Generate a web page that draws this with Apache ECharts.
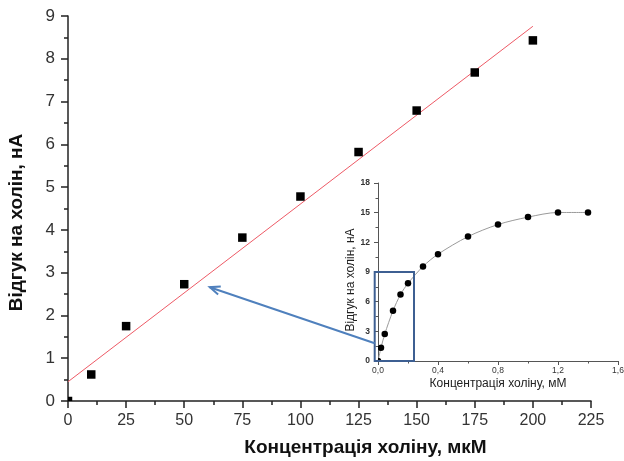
<!DOCTYPE html>
<html>
<head>
<meta charset="utf-8">
<script src="https://cdn.jsdelivr.net/npm/echarts@6/dist/echarts.min.js"></script>
<style>
  html, body { margin: 0; padding: 0; background: #fff; }
  #chart { width: 624px; height: 461px; }
</style>
</head>
<body>
<div id="chart"></div>
<script>
// Main plot: biosensor response vs choline concentration, µM
const mainConc = [0, 10, 25, 50, 75, 100, 125, 150, 175, 200];
const mainResp = [0, 0.62, 1.75, 2.73, 3.82, 4.78, 5.82, 6.79, 7.68, 8.43];

// Linear fit line, end points
const fitConc = [0, 200];
const fitResp = [0.45, 8.76];

// Inset: full calibration curve, mM
const insetConc = [0, 0.02, 0.045, 0.1, 0.15, 0.2, 0.3, 0.4, 0.6, 0.8, 1.0, 1.2, 1.4];
const insetResp = [0, 1.33, 2.72, 5.08, 6.72, 7.85, 9.56, 10.8, 12.58, 13.8, 14.55, 15.02, 15.02];

// Linear region framed in the inset (inset coordinates)
const boxConc = [-0.022, 0.24];
const boxResp = [0, 9];

// Callout arrow: starts on the frame (inset coords), ends in the main plot (main coords)
const arrowStart = [-0.022, 1.79];
const arrowEnd = [61, 2.66];

// Tick values: [min, max, step]
const mainXTicks = [0, 225, 25];
const mainYTicks = [0, 9, 1];
const insetXTicks = [0, 1.6, 0.4];
const insetYTicks = [0, 18, 3];

const FONT = 'Liberation Sans, Arial, sans-serif';

const zip = (a, b) => a.map((v, i) => [v, b[i]]);

function markRenderer(kind, size) {
  return function (params, api) {
    const p = api.coord([api.value(0), api.value(1)]);
    if (kind === 'square') {
      return {
        type: 'rect',
        shape: { x: p[0] - size / 2, y: p[1] - size / 2, width: size, height: size },
        style: { fill: '#000' }
      };
    }
    return {
      type: 'circle',
      shape: { cx: p[0], cy: p[1], r: size / 2 },
      style: { fill: '#000' }
    };
  };
}

const chart = echarts.init(document.getElementById('chart'), null, { renderer: 'canvas' });

chart.setOption({
  animation: false,
  backgroundColor: '#fff',
  grid: [
    { left: 68, top: 16, width: 523, height: 385, containLabel: false, outerBoundsMode: 'none' },
    { left: 378, top: 183, width: 240, height: 178, containLabel: false, outerBoundsMode: 'none' }
  ],
  xAxis: [
    {
      gridIndex: 0, type: 'value',
      min: mainXTicks[0], max: mainXTicks[1], interval: mainXTicks[2],
      name: 'Концентрація холіну, мкМ',
      nameLocation: 'middle', nameGap: 37,
      nameTextStyle: { fontFamily: FONT, fontSize: 19, fontWeight: 'bold', color: '#111', padding: [0, 0, 0, 72] },
      axisLine: { lineStyle: { color: '#222', width: 1.5 } },
      axisTick: { show: true, inside: false, length: 7, lineStyle: { color: '#222', width: 1.5 } },
      minorTick: { show: true, splitNumber: 2, length: 4, lineStyle: { color: '#222', width: 1.5 } },
      axisLabel: { fontFamily: FONT, fontSize: 16, color: '#333', margin: 12 },
      splitLine: { show: false }
    },
    {
      gridIndex: 1, type: 'value',
      min: insetXTicks[0], max: insetXTicks[1], interval: insetXTicks[2],
      name: 'Концентрація холіну, мМ',
      nameLocation: 'middle', nameGap: 17,
      nameTextStyle: { fontFamily: FONT, fontSize: 12, color: '#222' },
      axisLine: { lineStyle: { color: '#555', width: 1 } },
      axisTick: { show: true, length: 4, lineStyle: { color: '#555' } },
      minorTick: { show: true, splitNumber: 2, length: 2.5, lineStyle: { color: '#555' } },
      axisLabel: {
        fontFamily: FONT, fontSize: 8.5, color: '#333', margin: 5,
        formatter: v => v.toFixed(1).replace('.', ',')
      },
      splitLine: { show: false }
    }
  ],
  yAxis: [
    {
      gridIndex: 0, type: 'value',
      min: mainYTicks[0], max: mainYTicks[1], interval: mainYTicks[2],
      name: 'Відгук на холін, нА',
      nameLocation: 'middle', nameGap: 42,
      nameTextStyle: { fontFamily: FONT, fontSize: 19, fontWeight: 'bold', color: '#111', padding: [0, 28, 0, 0] },
      axisLine: { show: true, lineStyle: { color: '#222', width: 1.5 } },
      axisTick: { show: true, length: 7, lineStyle: { color: '#222', width: 1.5 } },
      minorTick: { show: true, splitNumber: 2, length: 4, lineStyle: { color: '#222', width: 1.5 } },
      axisLabel: { fontFamily: FONT, fontSize: 17, color: '#333', margin: 13 },
      splitLine: { show: false }
    },
    {
      gridIndex: 1, type: 'value',
      min: insetYTicks[0], max: insetYTicks[1], interval: insetYTicks[2],
      name: 'Відгук на холін, нА',
      nameLocation: 'middle', nameGap: 17,
      nameTextStyle: { fontFamily: FONT, fontSize: 12, color: '#222', padding: [0, 16, 0, 0] },
      axisLine: { show: true, lineStyle: { color: '#555', width: 1 } },
      axisTick: { show: true, length: 4, lineStyle: { color: '#555' } },
      minorTick: { show: true, splitNumber: 2, length: 2.5, lineStyle: { color: '#555' } },
      axisLabel: { fontFamily: FONT, fontSize: 8.5, fontWeight: 'bold', color: '#333', margin: 8 },
      splitLine: { show: false }
    }
  ],
  series: [
    {
      name: 'fit', type: 'line', xAxisIndex: 0, yAxisIndex: 0,
      data: zip(fitConc, fitResp), showSymbol: false,
      lineStyle: { color: '#ee5a66', width: 1 }, z: 2
    },
    {
      name: 'main', type: 'custom', xAxisIndex: 0, yAxisIndex: 0,
      data: zip(mainConc, mainResp), clip: true,
      renderItem: markRenderer('square', 8.5), z: 3
    },
    {
      name: 'insetCurve', type: 'line', xAxisIndex: 1, yAxisIndex: 1,
      data: zip(insetConc, insetResp), showSymbol: false, smooth: 0.3,
      lineStyle: { color: '#9a9a9a', width: 1 }, z: 2
    },
    {
      name: 'insetPoints', type: 'custom', xAxisIndex: 1, yAxisIndex: 1,
      data: zip(insetConc, insetResp), clip: true,
      renderItem: markRenderer('circle', 6.5), z: 3
    }
  ]
});

// Frame around the linear region and the callout arrow
function drawAnnotations() {
  const inset = { gridIndex: 1 };
  const main = { gridIndex: 0 };
  const tl = chart.convertToPixel(inset, [boxConc[0], boxResp[1]]);
  const br = chart.convertToPixel(inset, [boxConc[1], boxResp[0]]);
  const a0 = chart.convertToPixel(inset, arrowStart);
  const a1 = chart.convertToPixel(main, arrowEnd);

  const dx = a0[0] - a1[0], dy = a0[1] - a1[1];
  const len = Math.hypot(dx, dy);
  const ux = dx / len, uy = dy / len;
  const wing = 11, ang = 22 * Math.PI / 180;
  const rot = (c, s) => [ux * c - uy * s, ux * s + uy * c];
  const w1 = rot(Math.cos(ang), Math.sin(ang));
  const w2 = rot(Math.cos(ang), -Math.sin(ang));

  chart.setOption({
    graphic: [
      {
        type: 'rect', z: 10,
        shape: { x: tl[0], y: tl[1], width: br[0] - tl[0], height: br[1] - tl[1] },
        style: { fill: 'none', stroke: '#3d5f92', lineWidth: 2 }
      },
      {
        type: 'line', z: 10,
        shape: { x1: a0[0], y1: a0[1], x2: a1[0], y2: a1[1] },
        style: { stroke: '#4f80bd', lineWidth: 2 }
      },
      {
        type: 'polyline', z: 10,
        shape: { points: [
          [a1[0] + w1[0] * wing, a1[1] + w1[1] * wing],
          [a1[0], a1[1]],
          [a1[0] + w2[0] * wing, a1[1] + w2[1] * wing]
        ] },
        style: { stroke: '#4f80bd', lineWidth: 2, fill: 'none' }
      }
    ]
  });
}
drawAnnotations();
</script>
</body>
</html>
